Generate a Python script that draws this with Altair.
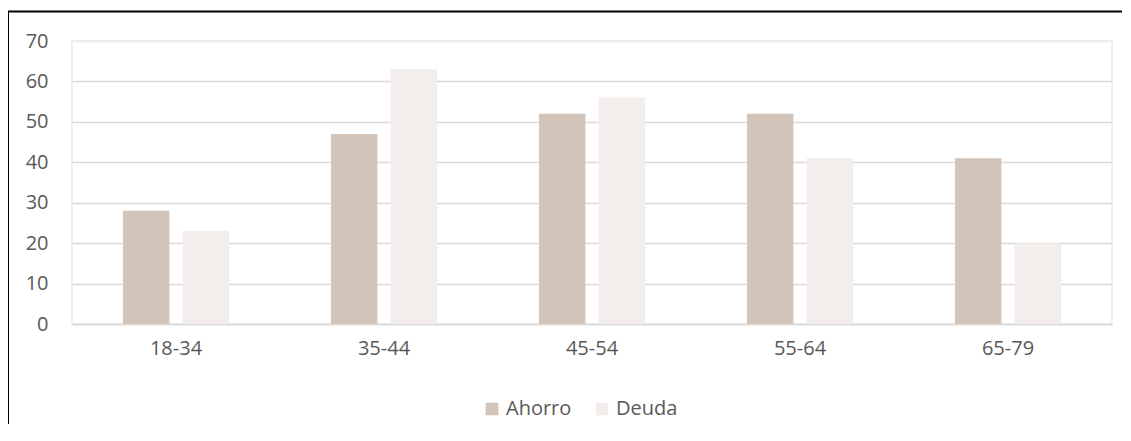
import altair as alt
import pandas as pd

categories = ["18-34", "35-44", "45-54", "55-64", "65-79"]
ahorro = [28, 47, 52, 52, 41]
deuda = [23, 63, 56, 41, 20]
series = ["Ahorro", "Deuda"]
colors = ["#D3C4BA", "#F3EEEB"]

rows = []
for c, a, d in zip(categories, ahorro, deuda):
    rows.append({"grupo": c, "serie": "Ahorro", "valor": a})
    rows.append({"grupo": c, "serie": "Deuda", "valor": d})
df = pd.DataFrame(rows)

FONT = "Open Sans"
FS = 20

bars = alt.Chart(df).mark_bar().encode(
    x=alt.X("grupo:N", sort=categories, title=None,
            scale=alt.Scale(paddingInner=0.49, paddingOuter=0.245),
            axis=alt.Axis(labelAngle=0, ticks=False, domain=True, domainColor="#D9D9D9",
                          domainWidth=1.5, labelPadding=14, grid=False,
                          labelFont=FONT, labelFontSize=FS, labelColor="#595959")),
    xOffset=alt.XOffset("serie:N", sort=series,
                        scale=alt.Scale(paddingInner=0.22, paddingOuter=0)),
    y=alt.Y("valor:Q", title=None,
            scale=alt.Scale(domain=[0, 70], nice=False),
            axis=alt.Axis(values=[0, 10, 20, 30, 40, 50, 60, 70], ticks=False, domain=False,
                          gridColor={"condition": {"test": "datum.value === 70", "value": "#F0EAE6"},
                                     "value": "#D9D9D9"},
                          gridWidth=1.5, labelPadding=24,
                          labelFont=FONT, labelFontSize=FS, labelColor="#595959")),
    color=alt.Color("serie:N", sort=series, title=None,
                    scale=alt.Scale(domain=series, range=colors),
                    legend=alt.Legend(orient="none", direction="horizontal",
                                      legendX=410, legendY=358, symbolType="square",
                                      symbolSize=160, symbolStrokeWidth=0,
                                      columnPadding=20, labelFontSize=FS,
                                      labelColor="#595959", labelFont=FONT)),
)

border = alt.Chart(pd.DataFrame({"k": [0]})).mark_rect(
    fill=None, stroke="#000000", strokeWidth=2
).encode(
    x=alt.value(-64), x2=alt.value(1300), y=alt.value(-29.5), y2=alt.value(600)
)

chart = alt.layer(bars, border).properties(
    width=1040, height=283,
    autosize=alt.AutoSizeParams(type="none"),
    padding={"left": 64, "top": 33, "right": 10, "bottom": 100},
    background="#FFFFFF",
).configure_view(
    stroke="#F0EAE6", strokeWidth=1.5
)

chart.save("out.html", embed_options={"renderer": "svg", "actions": False})
